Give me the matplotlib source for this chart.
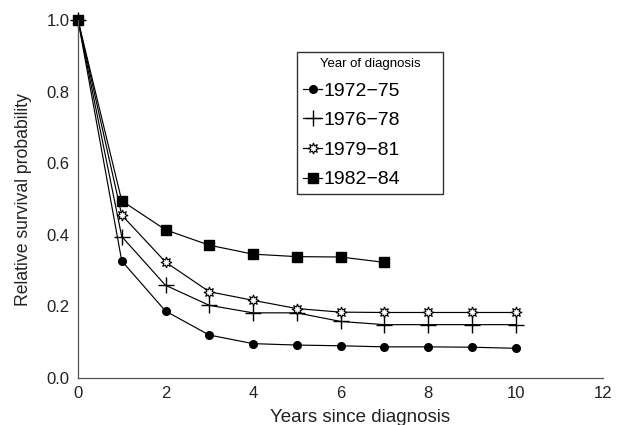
import matplotlib
matplotlib.use("Agg")
import matplotlib.pyplot as plt

plt.rcParams['font.family'] = ['Liberation Sans', 'DejaVu Sans']

years_a = [0, 1, 2, 3, 4, 5, 6, 7, 8, 9, 10]
s_7275 = [1.0, 0.327, 0.187, 0.120, 0.096, 0.092, 0.090, 0.087, 0.087, 0.086, 0.083]
s_7678 = [1.0, 0.395, 0.259, 0.203, 0.182, 0.182, 0.158, 0.149, 0.149, 0.149, 0.149]
s_7981 = [1.0, 0.455, 0.324, 0.241, 0.217, 0.194, 0.184, 0.183, 0.183, 0.183, 0.183]
years_b = [0, 1, 2, 3, 4, 5, 6, 7]
s_8284 = [1.0, 0.495, 0.414, 0.371, 0.346, 0.339, 0.338, 0.323]

labels = ['1972\u221275', '1976\u221278', '1979\u221281', '1982\u221284']
xticks = [0, 2, 4, 6, 8, 10, 12]
yticks = [0.0, 0.2, 0.4, 0.6, 0.8, 1.0]

W, H = 618, 425
fig = plt.figure(figsize=(W / 100, H / 100), dpi=100)
ax = fig.add_axes([78 / W, 1 - 378 / H, 525 / W, 358 / H])

lw = 0.85
ax.plot(years_a, s_7275, color='black', lw=lw, marker='o', ms=5.5, mfc='black', mec='black', label=labels[0], clip_on=False)
ax.plot(years_a, s_7678, color='black', lw=lw, marker='+', ms=12, mew=1.0, label=labels[1], clip_on=False)
ax.plot(years_a, s_7981, color='black', lw=lw, marker=(8, 1, 0), ms=8, mfc='white', mec='black', mew=0.8, label=labels[2], clip_on=False)
ax.plot(years_b, s_8284, color='black', lw=lw, marker='s', ms=7.5, mfc='black', mec='black', label=labels[3], clip_on=False)

ax.set_xlim(0, 12)
ax.set_ylim(0, 1.0)
ax.set_xticks(xticks)
ax.set_xticklabels([str(t) for t in xticks])
ax.set_yticks(yticks)
ax.set_yticklabels([f"{t:.1f}" for t in yticks])
ax.tick_params(axis='both', length=0, labelsize=12, colors='#222222')
ax.tick_params(axis='x', pad=6)
ax.tick_params(axis='y', pad=6)
for s in ['top', 'right']:
    ax.spines[s].set_visible(False)
for s in ['left', 'bottom']:
    ax.spines[s].set_color('#555555')
    ax.spines[s].set_linewidth(0.9)

ax.set_xlabel('Years since diagnosis', fontsize=13.5, color='#222222')
ax.xaxis.set_label_coords((360 - 78) / 525, -31 / 358)
ax.set_ylabel('Relative survival probability', fontsize=12.7, color='#222222')
ax.yaxis.set_label_coords((32 - 78) / 525, 0.5)

leg = ax.legend(title='Year of diagnosis', loc='upper left',
                bbox_to_anchor=(297 / W, 1 - 193 / H, 146 / W, 141 / H),
                bbox_transform=fig.transFigure, mode='expand', borderaxespad=0,
                fontsize=14, title_fontsize=9.5, frameon=True, fancybox=False,
                handlelength=1.0, handletextpad=0.05, borderpad=0.3, labelspacing=0.62,
                edgecolor='black')
leg.get_frame().set_linewidth(1.0)

fig.savefig('out.png', dpi=100)
